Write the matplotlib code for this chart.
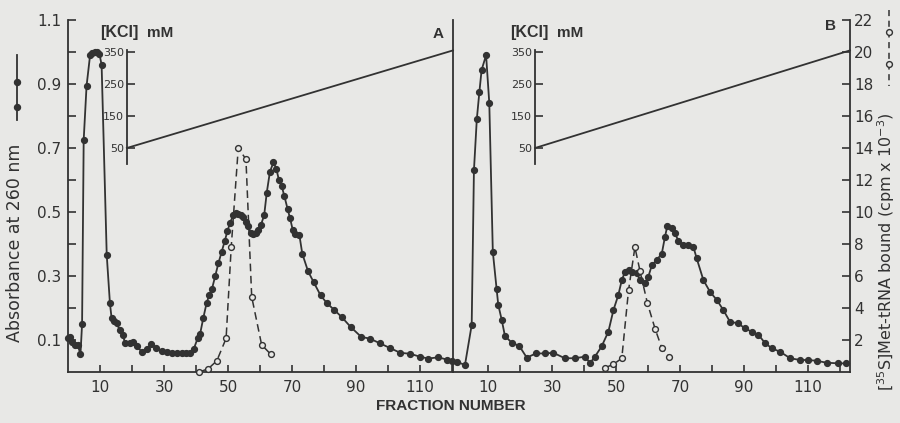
"""
Elution profiles, two columns (A / B): A260 (filled dots) and bound
[35S]Met-tRNA (open circles, dashed), with the KCl gradient drawn on a
small inset scale.  Writes out.png, 900x423.
"""
import matplotlib

matplotlib.use("Agg")
import matplotlib.pyplot as plt  # noqa: E402
from matplotlib.lines import Line2D  # noqa: E402

W, H = 900, 423
DPI = 100
INK = "#323232"
PAPER = "#e8e8e6"
NARROW = ["Liberation Sans Narrow", "Liberation Sans", "DejaVu Sans"]

# ---- panel A ---------------------------------------------------------------
frac_a = [0, 0.6, 1.2, 2.2, 3.0, 3.9, 4.4, 4.9, 5.8, 6.9, 7.5, 8.3, 9.2, 9.8,
          10.5, 12.1, 13.1, 13.6, 14.4, 15.2, 16.2, 17.2, 17.8, 19.4, 20.4,
          21.5, 23.0, 24.8, 26.0, 27.5, 29.3, 30.8, 32.4, 34.0, 35.5, 37.0,
          38.2, 39.3, 40.5, 41.3, 42.3, 43.3, 44.1, 45.0, 46.0, 47.0, 48.0,
          49.0, 49.8, 50.6, 51.6, 52.4, 53.2, 54.0, 54.8, 55.6, 56.3, 57.1,
          57.9, 58.7, 59.5, 60.3, 61.3, 62.1, 63.1, 64.2, 65.1, 65.9, 66.8,
          67.6, 68.6, 69.4, 70.2, 71.0, 72.3, 73.2, 75.0, 76.8, 78.9, 80.9,
          83.2, 85.5, 88.4, 91.6, 94.4, 97.4, 100.6, 103.8, 106.9, 109.9,
          112.6, 115.7, 118.3, 119.9]
a260_a = [0.105, 0.11, 0.095, 0.085, 0.085, 0.056, 0.15, 0.725, 0.894, 0.99,
          0.998, 1.0, 1.0, 0.995, 0.96, 0.366, 0.215, 0.17, 0.158, 0.153,
          0.13, 0.115, 0.09, 0.09, 0.095, 0.08, 0.064, 0.072, 0.088, 0.075,
          0.066, 0.062, 0.06, 0.06, 0.058, 0.058, 0.06, 0.072, 0.105, 0.12,
          0.17, 0.215, 0.24, 0.26, 0.3, 0.34, 0.375, 0.41, 0.44, 0.465, 0.49,
          0.497, 0.495, 0.49, 0.485, 0.47, 0.455, 0.435, 0.43, 0.435, 0.445,
          0.46, 0.49, 0.56, 0.626, 0.655, 0.635, 0.6, 0.58, 0.55, 0.51, 0.48,
          0.445, 0.43, 0.428, 0.37, 0.315, 0.28, 0.24, 0.215, 0.194, 0.172,
          0.14, 0.11, 0.104, 0.09, 0.075, 0.06, 0.057, 0.048, 0.042, 0.046,
          0.039, 0.033]
frac_a_met = [41.0, 43.8, 46.5, 49.4, 51.0, 53.2, 55.6, 57.4, 60.5, 63.4]
met_a = [0.0, 0.2, 0.7, 2.1, 7.8, 14.0, 13.3, 4.7, 1.7, 1.1]

# ---- panel B ---------------------------------------------------------------
frac_b = [0.2, 2.8, 4.9, 5.6, 6.5, 7.3, 8.0, 9.4, 10.4, 11.5, 12.7, 13.2,
          14.3, 15.3, 17.4, 19.8, 22.1, 25.0, 27.8, 30.4, 34.0, 37.2, 40.3,
          41.9, 43.4, 45.5, 47.6, 49.2, 50.7, 51.8, 52.8, 53.9, 54.9, 56.5,
          57.5, 59.0, 60.1, 61.2, 62.7, 64.3, 65.3, 66.0, 67.4, 68.4, 69.5,
          71.0, 72.6, 74.2, 75.2, 77.3, 79.4, 81.5, 83.5, 85.6, 88.2, 90.3,
          92.4, 94.5, 96.6, 98.7, 101.3, 104.4, 107.5, 110.0, 112.7, 115.8,
          119.5, 122.0]
a260_b = [0.032, 0.022, 0.147, 0.63, 0.79, 0.875, 0.944, 0.99, 0.84, 0.376,
          0.258, 0.21, 0.162, 0.112, 0.092, 0.081, 0.045, 0.058, 0.058, 0.06,
          0.043, 0.043, 0.048, 0.028, 0.048, 0.08, 0.126, 0.194, 0.24, 0.287,
          0.313, 0.319, 0.313, 0.308, 0.287, 0.277, 0.298, 0.334, 0.35, 0.37,
          0.423, 0.455, 0.45, 0.433, 0.41, 0.397, 0.397, 0.39, 0.355, 0.287,
          0.25, 0.225, 0.194, 0.157, 0.152, 0.136, 0.126, 0.116, 0.09, 0.074,
          0.063, 0.043, 0.0375, 0.0375, 0.035, 0.029, 0.027, 0.027]
frac_b_met = [46.6, 49.2, 51.8, 53.9, 55.9, 57.5, 59.8, 62.2, 64.3, 66.7]
met_b = [0.27, 0.48, 0.86, 5.1, 7.8, 6.3, 4.3, 2.7, 1.5, 0.96]

# ---- KCl gradient (mM), start fraction -> end fraction ---------------------
grad_a_frac = [18.4, 120.3]
grad_b_frac = [24.7, 123.1]
grad_mM = [50, 355]
kcl_ticks = [50, 150, 250, 350]

# ---- axis ticks ------------------------------------------------------------
abs_ticks = [0.1, 0.2, 0.3, 0.4, 0.5, 0.6, 0.7, 0.8, 0.9, 1.0, 1.1]
abs_labels = ["0.1", "", "0.3", "", "0.5", "", "0.7", "", "0.9", "", "1.1"]
cpm_ticks = [2, 4, 6, 8, 10, 12, 14, 16, 18, 20, 22]
frac_ticks = [10, 20, 30, 40, 50, 60, 70, 80, 90, 100, 110, 120]
frac_labels = ["10", "", "30", "", "50", "", "70", "", "90", "", "110", ""]

# layout in target pixels
Y_TOP, Y_BASE = 20, 372
X_A0, X_SEP, X_B1 = 68, 453, 850
XLIM_A = (0, 120.3)
XLIM_B = (-0.94, 123.1)


def fx(x: float) -> float:
    return x / W


def fy(y: float) -> float:
    return 1 - y / H


def _main_axes(fig, x0, x1, xlim):
    ax = fig.add_axes((fx(x0), fy(Y_BASE), (x1 - x0) / W, (Y_BASE - Y_TOP) / H))
    ax.patch.set_alpha(0)
    ax.set_xlim(*xlim)
    ax.set_ylim(0, 1.1)
    ax.spines["top"].set_visible(False)
    for s in ax.spines.values():
        s.set_color(INK)
        s.set_linewidth(1.3)
    ax.set_xticks(frac_ticks, frac_labels)
    ax.tick_params(axis="x", direction="in", length=5, width=1.2, colors=INK,
                   labelsize=11, pad=6)
    return ax


def _kcl_scale(ax, grad_frac):
    """Inset mM scale whose spine sits at the gradient start."""
    x0, x1 = grad_frac[0], grad_frac[1]
    k = ax.inset_axes([x0, 0.65, x1 - x0, 0.356], transform=ax.transData)
    k.patch.set_alpha(0)
    k.set_xlim(x0, x1)
    k.set_ylim(0, 356)
    for side in ("top", "right", "bottom"):
        k.spines[side].set_visible(False)
    k.spines["left"].set_color(INK)
    k.spines["left"].set_linewidth(1.3)
    k.set_xticks([])
    k.set_yticks(kcl_ticks, [str(t) for t in kcl_ticks])
    k.tick_params(axis="y", direction="in", length=6, width=1.2, colors=INK,
                  labelsize=8, pad=2)
    k.plot(grad_frac, grad_mM, color=INK, lw=1.3, clip_on=False)
    return k


def _twin(ax):
    t = ax.twinx()
    t.set_ylim(0, 22)
    for s in t.spines.values():
        s.set_visible(False)
    t.set_yticks([])
    return t


def main() -> None:
    plt.rcParams["font.family"] = ["DejaVu Sans"]
    fig = plt.figure(figsize=(W / DPI, H / DPI), dpi=DPI, facecolor=PAPER)

    ax_a = _main_axes(fig, X_A0, X_SEP, XLIM_A)
    ax_a.set_yticks(abs_ticks, abs_labels)
    ax_a.tick_params(axis="y", direction="in", length=6, width=1.2, colors=INK,
                     labelsize=11, pad=5)
    ax_a.yaxis.set_ticks_position("left")

    ax_b = _main_axes(fig, X_SEP, X_B1, XLIM_B)
    ax_b.spines["left"].set_visible(False)
    ax_b.spines["right"].set_visible(False)
    ax_b.set_yticks([])

    tw_a = _twin(ax_a)
    tw_b = _twin(ax_b)
    tw_b.spines["right"].set_visible(True)
    tw_b.spines["right"].set_color(INK)
    tw_b.spines["right"].set_linewidth(1.3)
    tw_b.set_yticks(cpm_ticks, [str(t) for t in cpm_ticks])
    tw_b.tick_params(axis="y", direction="in", length=6, width=1.2, colors=INK,
                     labelsize=11, pad=3)

    solid = dict(color=INK, lw=1.3, marker="o", ms=4.2, mfc=INK, mec=INK,
                 clip_on=False, zorder=3)
    dashed = dict(color=INK, lw=1.1, ls=(0, (5, 3)), marker="o", ms=4.2,
                  mfc=PAPER, mec=INK, mew=1.0, clip_on=False, zorder=4)

    ax_a.plot(frac_a, a260_a, **solid)
    ax_b.plot(frac_b, a260_b, **solid)
    tw_a.plot(frac_a_met, met_a, **dashed)
    tw_b.plot(frac_b_met, met_b, **dashed)

    _kcl_scale(ax_a, grad_a_frac)
    _kcl_scale(ax_b, grad_b_frac)

    # labels
    bold = dict(color=INK, fontweight="bold", va="center", family=NARROW)
    fig.text(fx(100), fy(33), "[KCl]", ha="left", fontsize=11.5, **bold)
    fig.text(fx(147), fy(33), "mM", ha="left", fontsize=11, **bold)
    fig.text(fx(510), fy(33), "[KCl]", ha="left", fontsize=11.5, **bold)
    fig.text(fx(557), fy(33), "mM", ha="left", fontsize=11, **bold)
    fig.text(fx(438), fy(34), "A", ha="center", fontsize=11, **bold)
    fig.text(fx(830), fy(26), "B", ha="center", fontsize=11, **bold)
    fig.text(fx(451), fy(406), "FRACTION NUMBER", ha="center", fontsize=11,
             **bold)

    fig.text(fx(15), fy(243), "Absorbance at 260 nm", rotation=90,
             ha="center", va="center", fontsize=12.5, color=INK)
    fig.text(fx(886), fy(252), r"[$^{35}$S]Met-tRNA bound (cpm x 10$^{-3}$)",
             rotation=90, ha="center", va="center", fontsize=11.5, color=INK)

    # key glyphs next to the axis titles
    tf = fig.transFigure
    fig.add_artist(Line2D([fx(17), fx(17)], [fy(55), fy(120)], transform=tf,
                          color=INK, lw=1.3))
    fig.add_artist(Line2D([fx(17), fx(17)], [fy(82), fy(107)], transform=tf,
                          ls="none", marker="o", ms=4.3, color=INK))
    fig.add_artist(Line2D([fx(889), fx(889)], [fy(10), fy(86)], transform=tf,
                          color=INK, lw=1.1, ls=(0, (4, 3))))
    fig.add_artist(Line2D([fx(889), fx(889)], [fy(32), fy(64)], transform=tf,
                          ls="none", marker="o", ms=4.2, mfc=PAPER, mec=INK))

    fig.savefig("out.png", dpi=DPI, facecolor=PAPER)
    plt.close(fig)


if __name__ == "__main__":
    main()
